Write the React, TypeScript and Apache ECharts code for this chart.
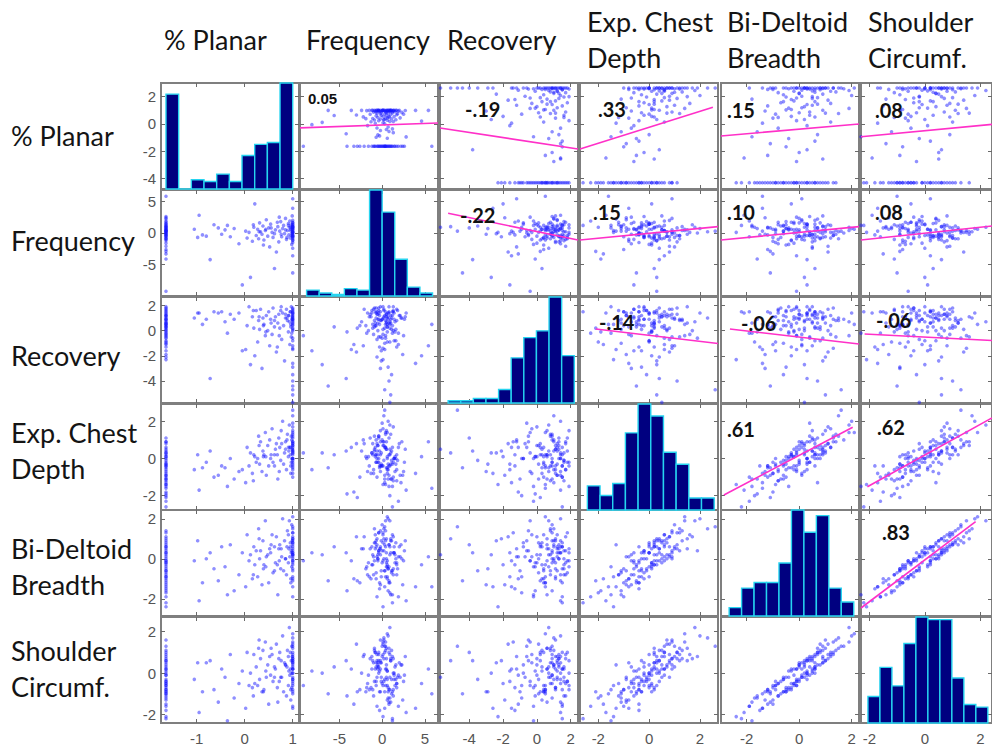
import React, { useEffect, useRef } from "react";
import * as echarts from "echarts";

// ---------- data ----------
const headerLines = [["% Planar"], ["Frequency"], ["Recovery"], ["Exp. Chest", "Depth"], ["Bi-Deltoid", "Breadth"], ["Shoulder", "Circumf."]];

const planar = [
  -1.64, -1.64, -1.64, -1.64, -1.64, -1.64, -1.64, -1.64, -1.64, -1.64,
  -1.64, -1.64, -1.64, -1.64, -1.64, -1.64, -1.64, -1.64, -1.64, -1.64,
  -1.64, -1.64, -1.64, -1.64, -1.64, -1.64, -1.64, -1.64, -1.64, -1.64,
  -1.64, -1.64, -1.64, -1.64, -1.64, -1.64, -1.64, -1.64, -1.05, -0.98,
  -0.95, -0.88, -0.72, -0.64, -0.55, -0.48, -0.41, -0.36, -0.3, -0.22,
  -0.12, -0.05, 0.02, 0.05, 0.09, 0.12, 0.16, 0.19, 0.21, 0.24,
  0.27, 0.29, 0.31, 0.33, 0.36, 0.38, 0.4, 0.43, 0.45, 0.48,
  0.5, 0.52, 0.54, 0.57, 0.59, 0.62, 0.64, 0.66, 0.69, 0.71,
  0.73, 0.75, 0.77, 0.79, 0.81, 0.83, 0.85, 0.87, 0.89, 0.91,
  0.92, 0.93, 0.94, 0.95, 0.96, 0.97, 0.97, 0.98, 0.98, 0.99,
  1.0, 1.0, 1.0, 1.0, 1.0, 1.0, 1.0, 1.0, 1.0, 1.0,
  1.0, 1.0, 1.0, 1.0, 1.0, 1.0, 1.0, 1.0, 1.0, 1.0,
  1.0, 1.0, 1.0, 1.0, 1.0, 1.0, 1.0, 1.0, 1.0, 1.0,
  0.85, 0.62, 0.91, 0.44, 0.76, 0.96, 0.3, 0.68, 1.0, 0.55,
  -1.64, 0.88, 0.18, 1.0, 0.72, -0.8, 0.95, 0.39, 1.0, -1.64,
];
const frequency = [
  0.3, -0.8, 1.9, -2.1, 0.6, -3.3, 2.6, 0.1, -1.2, 1.1,
  -0.4, 0.9, -9.2, 1.5, -0.1, 2.2, -2.6, 0.4, 1.2, -1.6,
  0.7, -0.6, 5.8, 0.2, -1.0, 1.7, -0.3, 0.5, -2.9, 1.4,
  0.0, -0.9, 2.4, 0.8, -0.5, -4.1, 1.0, 0.3, 0.6, -0.7,
  2.8, -0.3, -4.2, 1.3, 0.8, -0.2, 0.5, 1.2, -0.6, 0.7,
  -1.7, -8.2, 0.3, -0.8, 0.1, -7.0, -1.3, 0.9, 4.6, -0.4,
  0.6, -0.9, 1.6, 0.2, -0.2, 1.1, -1.1, 0.4, 2.1, -0.5,
  0.8, -2.2, 1.4, 0.1, -0.7, -5.6, 0.5, -3.0, 1.0, -1.4,
  0.3, 1.8, -0.6, 0.7, 1.2, -0.1, 2.3, -1.0, 0.4, 1.5,
  -0.3, 0.9, 1.9, -0.8, 0.6, -0.4, 1.3, 0.0, -1.8, 2.7,
  -0.5, 1.1, 0.5, -1.2, 1.6, -6.3, 0.2, 0.9, -0.7, 2.0,
  0.1, -0.9, 1.3, 3.9, -0.2, 0.8, -1.5, 0.6, -3.6, 1.4,
  0.0, -0.6, 1.0, 5.4, -0.4, 0.7, -1.1, 1.7, 0.3, -2.4,
  0.5, -0.1, 1.2, 0.6, -0.2, 0.9, 0.2, 1.7, -0.4, 0.8,
  0.4, -0.7, 1.3, 0.1, 2.5, -0.5, 0.4, -1.9, 1.0, -0.2,
];
const recovery = [
  1.2, 0.6, -0.2, 1.7, 0.3, -1.1, 0.9, -2.3, 1.4, 0.1,
  1.8, -0.9, -0.4, 0.7, -1.6, 1.0, 0.4, -0.6, 1.5, 0.0,
  1.1, -2.1, 0.5, 1.6, -0.3, 0.8, -1.3, 1.3, 0.2, -0.8,
  0.9, 0.3, -1.9, 1.9, 0.6, -0.1, 1.2, -1.0, 1.0, 1.4,
  1.4, 0.5, -3.8, 1.5, 1.4, 1.5, 0.7, -0.2, 1.3, 0.9,
  1.4, -1.6, -1.5, 0.4, 1.9, -2.7, 1.1, 0.2, -2.0, 1.6,
  -0.9, 0.8, 0.1, 1.7, -3.0, 1.0, 0.5, -0.4, 1.2, 0.0,
  1.5, -1.2, 0.9, -0.3, 1.8, 0.3, 1.1, -1.7, 0.6, 1.3,
  0.2, 1.6, -0.7, 1.4, 0.4, -2.4, 1.0, 1.7, 0.8, -0.1,
  1.2, 0.7, -1.1, 1.5, 0.3, -0.5, 1.9, 0.9, -0.2, 1.1,
  1.3, -3.5, 0.6, 1.6, -0.8, -4.4, 1.0, -5.7, 0.4, 1.2,
  -1.4, 1.8, 0.0, -2.6, 0.8, -4.0, 1.1, 0.5, -1.5, 1.4,
  -0.6, 1.5, -5.1, -1.2, 0.9, -2.9, 0.2, 1.7, -4.7, 0.7,
  1.3, 0.8, 1.2, -0.1, 1.9, 0.5, 1.1, -1.3, 1.4, 0.6,
  0.5, 1.0, 1.6, 0.1, -0.4, 0.9, 1.5, 0.4, 0.9, -0.5,
];
const chestDepth = [
  -0.9, 0.1, -2.3, 0.8, -0.5, -1.8, -0.2, -1.4, 0.3, -1.1,
  1.1, -2.0, 0.3, -0.7, -0.3, -1.3, -1.0, 0.6, -2.6, 0.1,
  -0.6, 0.4, -1.6, -0.1, -0.8, -1.2, -0.4, 0.9, -2.1, 0.0,
  -0.4, 0.5, -0.9, -1.5, 0.2, -1.9, -0.3, -1.1, -0.6, 0.2,
  -1.7, -0.5, 0.4, -1.0, -0.9, -0.4, -0.5, -1.5, 0.0, -1.1,
  -0.7, -0.6, -1.3, 0.6, -0.4, 0.3, -0.8, 0.2, 0.1, -0.2,
  0.0, 1.2, -0.3, 0.9, -0.7, 0.4, 0.2, 1.4, -0.9, 0.7,
  -0.4, 1.0, 0.0, 1.6, -0.2, 0.2, 0.5, 0.8, -1.1, 1.1,
  0.6, -0.1, 0.8, 2.0, -0.3, 0.3, 0.9, -0.6, 1.3, 0.1,
  0.4, 1.8, 0.6, 0.2, -0.8, 1.2, -0.2, 1.0, 0.0, 0.5,
  0.7, -0.1, 1.5, 0.3, 0.0, -0.5, 2.3, 0.5, -0.2, 0.8,
  0.9, 0.4, 1.7, -0.8, 0.2, 1.1, -0.4, 1.4, 0.6, 0.0,
  1.9, -1.0, 0.3, 0.9, 1.2, -0.3, 0.8, -0.6, 2.6, 0.4,
  0.5, -0.4, 0.6, 0.1, 1.5, -0.4, 0.7, 0.2, 0.0, 0.2,
  -1.4, 1.0, -1.2, 0.7, -0.7, -0.2, 0.6, 0.1, 1.3, 0.9,
];
const biDeltoid = [
  -0.6, 0.5, -1.9, 1.1, -0.3, -1.0, 0.4, -2.4, 0.6, -0.7,
  1.3, -1.7, -0.1, 0.2, -0.9, 0.7, -1.2, 0.9, -2.2, -0.2,
  -0.5, 1.0, -1.4, 0.0, 0.1, -0.8, -1.5, 0.3, -1.1, 0.6,
  -0.2, 0.8, -1.3, -0.4, -0.1, -1.6, 0.3, -0.6, -0.1, 0.9,
  -2.1, -1.2, 0.3, -0.5, -1.1, 0.6, -0.4, -1.8, 0.7, -1.6,
  -0.8, 0.3, -1.4, 1.2, -0.1, 0.2, -1.0, 0.6, -0.3, 0.4,
  -0.9, 1.5, 0.0, 0.4, -1.3, 0.9, -0.3, 1.9, 0.1, 0.2,
  -1.2, 0.5, 0.3, 1.2, -0.7, 0.6, -0.2, 1.1, -1.8, 0.5,
  0.7, -0.5, 0.1, 2.0, -0.6, 0.9, 0.0, -0.8, 1.4, -0.2,
  0.5, 1.9, 0.1, 0.8, -1.0, 0.4, 0.3, 1.7, -0.4, 0.9,
  0.0, -0.6, 1.0, -0.3, 0.8, -1.1, 1.5, 0.2, -1.0, 0.6,
  1.3, -0.1, 1.1, -1.4, 0.2, 0.7, -0.9, 2.1, -0.1, 0.3,
  0.4, -1.9, 1.0, 0.1, 1.3, -0.5, 0.2, -0.2, 1.6, 0.5,
  0.0, -0.6, 1.2, -0.4, 0.5, -1.2, 1.0, -0.3, 0.3, 0.7,
  -0.9, 0.6, -0.8, 0.8, -0.1, 0.0, 0.6, -0.5, 0.9, 1.4,
];
const shoulder = [
  -0.3, 0.2, -1.6, 0.9, 0.1, -1.5, -0.1, -2.1, 0.8, -1.0,
  1.0, -1.2, -0.6, 0.3, -0.4, 0.4, -0.8, 1.3, -2.2, -0.1,
  -0.7, 0.6, -1.0, -0.4, 0.5, -0.5, -1.8, 0.7, -0.9, 0.0,
  -0.5, 1.1, -1.3, -0.8, 0.2, -1.1, 0.6, -0.9, -0.3, 0.5,
  -1.9, -0.9, 0.6, -0.8, -1.4, 0.2, -0.2, -2.3, 0.9, -1.2,
  -0.5, 0.1, -1.7, 1.0, -0.6, 0.0, -0.7, 0.9, -0.5, 0.3,
  -0.6, 1.2, -0.3, 0.7, -0.9, 1.1, -0.8, 1.5, -0.2, 0.4,
  -1.5, 0.8, -0.1, 0.9, -0.4, 0.3, 0.2, 1.4, -1.4, 0.7,
  1.0, -0.2, -0.2, 1.8, -0.9, 0.5, 0.4, -1.1, 1.1, -0.6,
  0.1, 2.2, -0.1, 1.0, -1.3, 0.6, 0.0, 1.3, -0.7, 0.8,
  0.3, -0.3, 1.2, 0.2, 0.4, -1.0, 1.7, -0.2, -0.6, 0.5,
  1.5, -0.4, 0.7, -1.7, 0.5, 1.0, -0.8, 1.9, 0.2, -0.3,
  0.8, -1.6, 0.6, 0.2, 0.9, -0.9, 0.6, -0.5, 1.3, 0.0,
  0.4, -0.2, 0.8, 0.1, 0.6, -0.8, 1.6, -0.7, 0.0, 1.2,
  -0.6, 0.3, -1.1, 1.4, -0.4, 0.5, 0.2, -0.9, 0.7, 1.6,
];

// histogram bar counts on the diagonal
const planarHist = [51, 0, 5, 4, 8, 4, 18, 24, 25, 57];
const frequencyHist = [4, 2, 1, 5, 4, 72, 57, 25, 6, 2];
const recoveryHist = [1, 1, 2, 2, 6, 20, 29, 32, 47, 21];
const chestDepthHist = [10, 6, 11, 32, 44, 39, 24, 19, 5, 5];
const biDeltoidHist = [3, 10, 12, 12, 19, 38, 30, 36, 10, 5];
const shoulderHist = [10, 21, 14, 30, 40, 39, 39, 17, 7, 6];
const histFirstEdge = [-1.64, -8.82, -5.25, -2.43, -2.67, -2.05];
const histBinWidth = [0.264, 1.47, 0.746, 0.499, 0.475, 0.432];

// axis tick labels and ranges
const colTicks = [[-1, 0, 1], [-5, 0, 5], [-4, -2, 0, 2], [-2, 0, 2], [-2, 0, 2], [-2, 0, 2]];
const rowTicks = [[-4, -2, 0, 2], [-5, 0, 5], [-4, -2, 0, 2], [-2, 0, 2], [-2, 0, 2], [-2, 0, 2]];
const colRange = [[-1.744, 1.131], [-9.59, 6.52], [-5.73, 2.43], [-2.72, 2.71], [-2.98, 2.28], [-2.3, 2.42]];
const rowRange = [[-4.78, 3.01], [-9.95, 6.79], [-5.75, 2.67], [-2.77, 2.93], [-2.86, 2.44], [-2.41, 2.71]];
const planarRowRange = [-1.816, 1.139]; // % Planar in its own units (upper-row panels 3-6)

// regression lines (upper triangle), endpoints in each panel's axis units
const fitRows = [0, 0, 0, 0, 0, 1, 1, 1, 1, 2, 2, 2, 3, 3, 4];
const fitCols = [1, 2, 3, 4, 5, 2, 3, 4, 5, 3, 4, 5, 4, 5, 5];
const fitFrom = [[-9.59, -0.29], [-5.73, -0.115], [-2.72, -0.7], [-2.98, -0.338], [-2.3, -0.358], [-5.25, 3.11], [-2.72, -1.11], [-2.98, -1.11], [-2.3, -1.11], [-2.1, 0.13], [-2.64, 0.13], [-2.17, -0.27], [-2.87, -1.96], [-2.07, -1.52], [-2.3, -2.46]];
const fitTo = [[6.52, 0.07], [2.43, -0.7], [2.51, 0.462], [2.28, -0.004], [2.42, -0.013], [2.43, -1.11], [2.71, 1.0], [2.28, 1.0], [2.42, 1.1], [2.71, -1.02], [2.28, -1.06], [2.42, -0.79], [2.04, 1.68], [2.42, 2.18], [1.83, 1.86]];
const corrLabels = ["0.05", "-.19", ".33", ".15", ".08", "-.22", ".15", ".10", ".08", "-.14", "-.06", "-.06", ".61", ".62", ".83"];

// ---------- layout ----------
const colLeft = [161, 300, 440, 580, 721, 861];
const rowTop = [83, 190, 297, 404, 510, 617];
const cellW = 138;
const cellH = 106;
const corrOffset = [[8, 15], [25, 26], [18, 26], [6, 27], [14, 27], [20, 25], [13, 22], [6, 22], [14, 22], [19, 25], [20, 26], [15, 23], [6, 25], [16, 23], [21, 22]];
const headerX = [164, 306, 447, 587, 727, 868];
const rowLabelY = [[135], [240], [355], [432, 468], [548, 584], [650, 686]];

export default function App() {
  const ref = useRef<HTMLDivElement>(null);
  useEffect(() => {
    if (!ref.current) return;
    const chart = echarts.init(ref.current, null, { renderer: "svg" });
    const vars = [planar, frequency, recovery, chestDepth, biDeltoid, shoulder];
    const hists = [planarHist, frequencyHist, recoveryHist, chestDepthHist, biDeltoidHist, shoulderHist];
    const grids: any[] = [];
    const xAxes: any[] = [];
    const yAxes: any[] = [];
    const series: any[] = [];
    const tickCol = "#6a6a6a";
    const labelStyle = { color: "#555555", fontSize: 15, fontFamily: "Liberation Sans, Arial, sans-serif" };
    const axisIdx: Record<string, { x: number; y: number }> = {};
    const noLine = { show: false, onZero: false };

    for (let i = 0; i < 6; i++) {
      for (let j = 0; j < 6; j++) {
        const g = grids.length;
        grids.push({
          left: colLeft[j], top: rowTop[i], width: cellW, height: cellH,
          show: true, borderColor: "#7f7f7f", borderWidth: 2, backgroundColor: "#ffffff",
        });
        const [xmin, xmax] = colRange[j];
        const xb = xAxes.length;
        const tick = (vals: number[]) => ({ show: true, inside: true, length: 4, customValues: vals, lineStyle: { color: tickCol, width: 1 } });
        xAxes.push({
          type: "value", gridIndex: g, position: "bottom", min: xmin, max: xmax,
          axisLine: noLine, splitLine: { show: false }, axisTick: tick(colTicks[j]),
          axisLabel: { show: i === 5, customValues: colTicks[j], margin: 8, ...labelStyle },
        });
        xAxes.push({
          type: "value", gridIndex: g, position: "top", min: xmin, max: xmax,
          axisLine: noLine, splitLine: { show: false }, axisTick: tick(colTicks[j]), axisLabel: { show: false },
        });
        let ymin = rowRange[i][0];
        let ymax = rowRange[i][1];
        let yt = rowTicks[i];
        if (i === 0 && j >= 2) {
          const [lmin, lmax] = rowRange[0];
          ymin = planarRowRange[0];
          ymax = planarRowRange[1];
          yt = rowTicks[0].map((v) => ymin + ((v - lmin) / (lmax - lmin)) * (ymax - ymin));
        }
        const yl = yAxes.length;
        yAxes.push({
          type: "value", gridIndex: g, position: "left", min: ymin, max: ymax,
          axisLine: noLine, splitLine: { show: false }, axisTick: tick(yt),
          axisLabel: { show: j === 0, customValues: yt, margin: 5, ...labelStyle },
        });
        yAxes.push({
          type: "value", gridIndex: g, position: "right", min: ymin, max: ymax,
          axisLine: noLine, splitLine: { show: false }, axisTick: tick(yt), axisLabel: { show: false },
        });
        axisIdx[i + "_" + j] = { x: xb, y: yl };
        if (i === j) {
          const counts = hists[i];
          const yc = yAxes.length;
          yAxes.push({ type: "value", gridIndex: g, position: "right", min: 0, max: Math.max(...counts), show: false, axisLine: noLine });
          series.push({
            type: "custom", xAxisIndex: xb, yAxisIndex: yc, silent: true,
            data: counts.map((c, k) => [histFirstEdge[i] + k * histBinWidth[i], histFirstEdge[i] + (k + 1) * histBinWidth[i], c]),
            encode: { x: [0, 1], y: 2 },
            renderItem: (_p: any, api: any) => {
              const p0 = api.coord([api.value(0), api.value(2)]);
              const p1 = api.coord([api.value(1), 0]);
              return {
                type: "rect",
                shape: { x: p0[0], y: p0[1], width: p1[0] - p0[0], height: p1[1] - p0[1] },
                style: { fill: "#000080", stroke: "#26d4f0", lineWidth: 1.4 },
              };
            },
          });
        } else {
          series.push({
            type: "scatter", xAxisIndex: xb, yAxisIndex: yl, silent: true,
            symbol: "circle", symbolSize: 3.6,
            itemStyle: { color: "rgba(20,20,255,0.6)" },
            data: vars[j].map((v, k) => [v, vars[i][k]]),
          });
        }
      }
    }

    fitRows.forEach((r, k) => {
      const a = axisIdx[r + "_" + fitCols[k]];
      series.push({
        type: "line", xAxisIndex: a.x, yAxisIndex: a.y, silent: true, symbol: "none", z: 5,
        lineStyle: { color: "#ff30c8", width: 1.6 },
        data: [fitFrom[k], fitTo[k]],
      });
    });

    const graphics: any[] = [];
    const headFont = "27px Lato, 'Open Sans', sans-serif";
    headerLines.forEach((lines, j) => {
      lines.forEach((t, li) => {
        const y = lines.length === 1 ? 39 : li === 0 ? 21 : 57;
        graphics.push({ type: "text", x: headerX[j], y, style: { text: t, fill: "#141414", font: headFont, textVerticalAlign: "middle", verticalAlign: "middle" } });
      });
      lines.forEach((t, li) => {
        graphics.push({ type: "text", x: 11, y: rowLabelY[j][li], style: { text: t, fill: "#141414", font: headFont, textVerticalAlign: "middle", verticalAlign: "middle" } });
      });
    });
    corrLabels.forEach((t, k) => {
      const r = fitRows[k];
      const c = fitCols[k];
      const small = k === 0;
      graphics.push({
        type: "text", z: 100,
        x: colLeft[c] + corrOffset[k][0], y: rowTop[r] + corrOffset[k][1],
        style: {
          text: t, fill: "#111111",
          font: small ? "bold 15px 'Liberation Sans', Arial, sans-serif" : "bold 20px Lato, sans-serif",
          textVerticalAlign: "middle", verticalAlign: "middle",
        },
      });
    });

    chart.setOption({
      animation: false,
      backgroundColor: "#ffffff",
      grid: grids,
      xAxis: xAxes,
      yAxis: yAxes,
      series,
      graphic: { elements: graphics },
    });
    return () => chart.dispose();
  }, []);
  return <div ref={ref} style={{ position: "fixed", left: 0, top: 0, width: 992, height: 746, background: "#fff" }} />;
}
